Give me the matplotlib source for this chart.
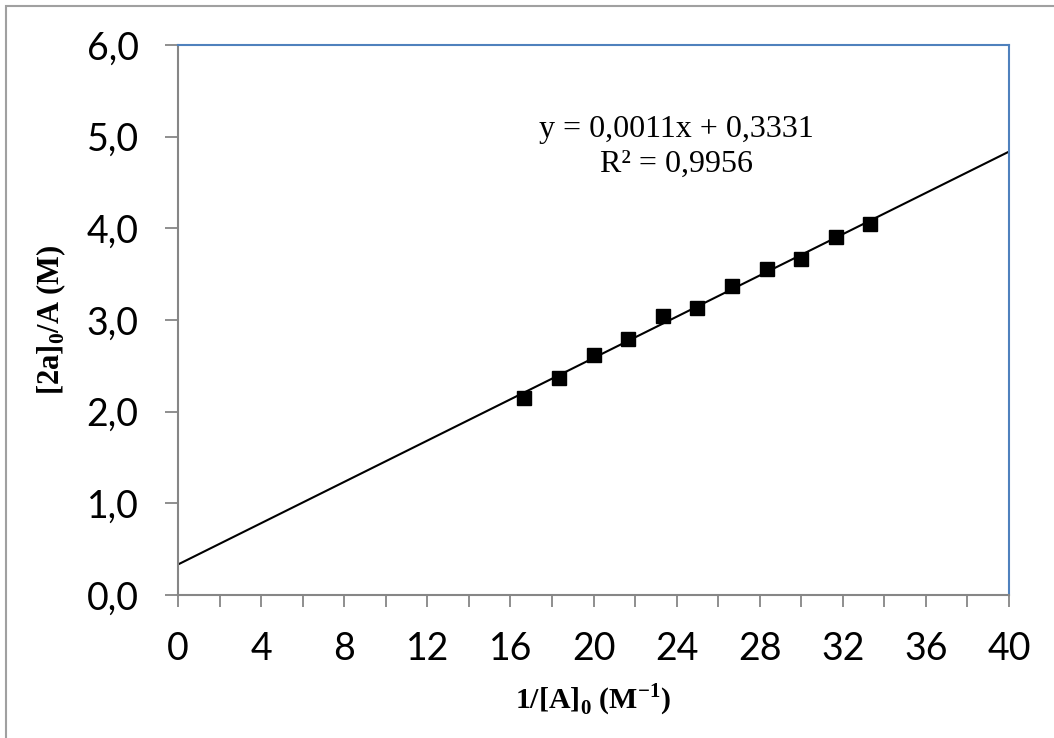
import matplotlib.pyplot as plt
import numpy as np
from matplotlib.patches import Rectangle

plt.rcParams['mathtext.fontset'] = 'custom'
plt.rcParams['mathtext.bf'] = 'Liberation Serif:bold'
plt.rcParams['mathtext.rm'] = 'Liberation Serif'

# 1/[A]0 (M^-1) and [2a]0/A (M)
inv_a0 = [16.67, 18.33, 20.00, 21.67, 23.33, 25.00, 26.67, 28.33, 30.00, 31.67, 33.33]
ratio = [2.15, 2.37, 2.62, 2.79, 3.04, 3.13, 3.37, 3.56, 3.67, 3.91, 4.05]

# trendline as drawn on the chart area
trend_x = [0, 40]
trend_intercept = 0.333
trend_slope = 0.1126

x_ticks = [0, 4, 8, 12, 16, 20, 24, 28, 32, 36, 40]
y_ticks = [0, 1, 2, 3, 4, 5, 6]

tick_font = 'Lato'
serif = 'Liberation Serif'

fig = plt.figure(figsize=(10.54, 7.38), dpi=100)
ax = fig.add_axes([178 / 1054, 1 - 595 / 738, (1009 - 178) / 1054, (595 - 45) / 738])

# outer chart frame
fig.patches.append(Rectangle((6 / 1054, -0.1), 1.2, 1 - 6 / 738 + 0.1,
                             transform=fig.transFigure, fill=False,
                             ec='#a0a0a0', lw=1.5))

tx = np.array(trend_x)
ax.plot(tx, trend_intercept + trend_slope * tx, color='black', lw=1.5, zorder=2)
ax.plot(inv_a0, ratio, ls='none', marker='s', ms=9.5, color='black', zorder=3)

ax.set_xlim(0, 40)
ax.set_ylim(0, 6)
ax.set_xticks(np.arange(0, 41, 2), minor=True)
ax.set_xticks(x_ticks)
ax.set_xticklabels([str(v) for v in x_ticks])
ax.set_yticks(y_ticks)
ax.set_yticklabels([f"{v},0" for v in y_ticks])

for lbl in ax.get_xticklabels() + ax.get_yticklabels():
    lbl.set_fontfamily(tick_font)
    lbl.set_fontsize(27)

ax.tick_params(axis='both', which='both', direction='out', color='#868686', width=1.3)
ax.tick_params(axis='y', length=9.4, pad=19)
ax.tick_params(axis='x', which='both', length=8.6, pad=17)

ax.spines['left'].set_color('#868686')
ax.spines['bottom'].set_color('#868686')
ax.spines['top'].set_color('#4f81bd')
ax.spines['right'].set_color('#4f81bd')
for s in ax.spines.values():
    s.set_linewidth(1.5)

ax.set_xlabel(r"1/[A]$_\mathbf{0}$ (M$^\mathbf{-1}$)", fontfamily=serif,
              fontweight='bold', fontsize=21.5, labelpad=11)
ax.set_ylabel(r"[2a]$_\mathbf{0}$/A (M)", fontfamily=serif,
              fontweight='bold', fontsize=22, labelpad=13)

ax.text(0.6, 0.815, "y = 0,0011x + 0,3331\nR² = 0,9956", transform=ax.transAxes,
        ha='center', va='center', fontfamily=serif, fontsize=23, linespacing=1.25)

fig.savefig("out.png", dpi=100)
